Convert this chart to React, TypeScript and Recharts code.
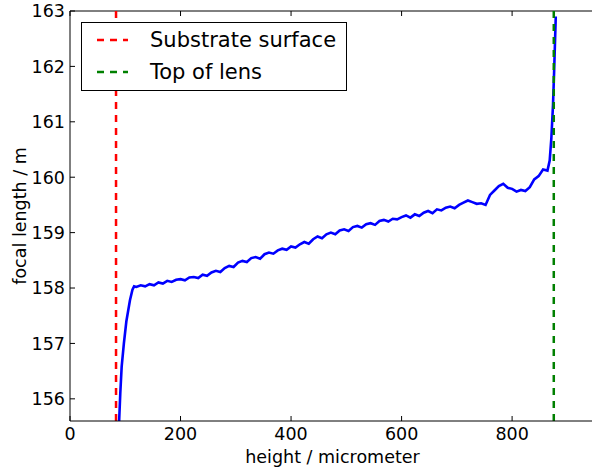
import { LineChart, Line, XAxis, YAxis, ReferenceLine, Legend } from 'recharts';

// measured profile: height (micrometer) vs focal length (m)
const heightUm = [
  88.5, 91, 93.5, 97.5, 102, 108.5, 113, 116,
  120, 128, 136, 144, 152, 160, 168, 176, 184, 192,
  200, 208, 216, 224, 232, 240, 248, 256, 264, 272,
  280, 288, 296, 304, 312, 320, 328, 336, 344, 352,
  360, 368, 376, 384, 392, 400, 408, 416, 424, 432,
  440, 448, 456, 464, 472, 480, 488, 496, 504, 512,
  520, 528, 536, 544, 552, 560, 568, 576, 584, 592,
  600, 608, 616, 624, 632, 640, 648, 656, 664, 672,
  680, 688, 696, 704, 712, 720, 728, 736, 744, 752,
  760, 768, 776, 784, 792, 800, 808, 816, 824, 832,
  840, 848, 856, 864, 868, 871, 874, 876, 877.5, 879,
];
const focalM = [
  155.5, 156.1, 156.58, 157.0, 157.4, 157.78, 157.97, 158.03,
  158.02, 158.05, 158.03, 158.07, 158.05, 158.1, 158.08, 158.13, 158.11, 158.15,
  158.16, 158.14, 158.19, 158.2, 158.18, 158.24, 158.22, 158.28, 158.31, 158.29,
  158.36, 158.4, 158.38, 158.46, 158.49, 158.47, 158.54, 158.56, 158.53, 158.61,
  158.64, 158.62, 158.68, 158.71, 158.69, 158.75, 158.73, 158.79, 158.83, 158.8,
  158.88, 158.93, 158.9, 158.97, 159.0, 158.97, 159.04, 159.06, 159.03, 159.1,
  159.12, 159.09, 159.15, 159.17, 159.14, 159.21, 159.23, 159.2, 159.25, 159.24,
  159.28, 159.31, 159.27, 159.33, 159.3, 159.36, 159.39, 159.35, 159.42, 159.4,
  159.45, 159.47, 159.44, 159.5, 159.54, 159.58, 159.55, 159.52, 159.53, 159.5,
  159.68, 159.76, 159.84, 159.88, 159.81, 159.79, 159.74, 159.77, 159.75, 159.82,
  159.96, 160.02, 160.14, 160.12, 160.3, 160.7, 161.3, 161.9, 162.4, 162.9,
];

const substrateX = [83.3, 83.3];
const lensTopX = [875.4, 875.4];
const markerY = [155.6, 163];

const xTicks = [0, 200, 400, 600, 800];
const yTicks = [156, 157, 158, 159, 160, 161, 162, 163];

const data = heightUm.map((h, i) => ({ h, f: focalM[i] }));
const substrateData = substrateX.map((h, i) => ({ h, v: markerY[i] }));
const lensData = lensTopX.map((h, i) => ({ h, v: markerY[i] }));

const FONT = 'DejaVu Sans, sans-serif';
const TOP = 11;
const BOTTOM = 421;
const LEFT = 70;

function XTick(props: any) {
  const { x, y, payload } = props;
  return (
    <g>
      <line x1={x} x2={x} y1={BOTTOM} y2={BOTTOM - 5} stroke="#000" />
      <line x1={x} x2={x} y1={TOP} y2={TOP + 5} stroke="#000" />
      <text x={x} y={y + 19} textAnchor="middle" fontSize={17.5} fontFamily={FONT} fill="#000">
        {payload.value}
      </text>
    </g>
  );
}

function YTick(props: any) {
  const { y, payload } = props;
  return (
    <g>
      <line x1={LEFT} x2={LEFT + 5} y1={y} y2={y} stroke="#000" />
      <text x={LEFT - 5} y={y + 6.3} textAnchor="end" fontSize={17.5} fontFamily={FONT} fill="#000">
        {payload.value}
      </text>
    </g>
  );
}

function LegendBox(props: any) {
  const items = (props.payload || []).filter((p: any) => p.type !== 'none');
  return (
    <div
      style={{
        width: 266,
        height: 69,
        boxSizing: 'border-box',
        border: '1px solid #000',
        background: '#fff',
        position: 'relative',
        fontFamily: FONT,
      }}
    >
      {items.map((it: any, i: number) => (
        <div key={it.value} style={{ position: 'absolute', left: 0, top: 17 + i * 32 - 12, height: 24, width: 264 }}>
          <svg width={40} height={24} style={{ position: 'absolute', left: 14, top: 0 }}>
            <line x1={1} x2={32} y1={12} y2={12} stroke={it.color} strokeWidth={2.5} strokeDasharray="7 6" />
          </svg>
          <span
            style={{
              position: 'absolute',
              left: 68,
              top: 0,
              lineHeight: '24px',
              fontSize: 21,
              color: '#000',
              whiteSpace: 'nowrap',
            }}
          >
            {it.value}
          </span>
        </div>
      ))}
    </div>
  );
}

export default function App() {
  return (
    <div style={{ position: 'absolute', left: 0, top: 0, width: 592, height: 469, overflow: 'hidden', background: '#fff' }}>
      <LineChart width={595} height={469} data={data} margin={{ top: TOP, right: 0, bottom: 0, left: 0 }}>
        <XAxis
          dataKey="h"
          type="number"
          domain={[0, 950]}
          ticks={xTicks}
          allowDataOverflow
          height={48}
          tickSize={0}
          tickMargin={0}
          tick={<XTick />}
          axisLine={{ stroke: '#000', strokeWidth: 1 }}
          label={{
            value: 'height / micrometer',
            position: 'insideBottom',
            offset: 6,
            style: { fontSize: 17.5, fontFamily: FONT, fill: '#000' },
          }}
        />
        <YAxis
          type="number"
          domain={[155.6, 163]}
          ticks={yTicks}
          allowDataOverflow
          width={LEFT}
          tickSize={0}
          tickMargin={0}
          tick={<YTick />}
          axisLine={{ stroke: '#000', strokeWidth: 1 }}
          label={({ viewBox }: any) => (
            <text
              x={viewBox.x + 26}
              y={viewBox.y + viewBox.height / 2}
              transform={`rotate(-90, ${viewBox.x + 26}, ${viewBox.y + viewBox.height / 2})`}
              textAnchor="middle"
              fontSize={17.5}
              fontFamily={FONT}
              fill="#000"
            >
              focal length / m
            </text>
          )}
        />
        <ReferenceLine y={163} stroke="#000" strokeWidth={1} />
        <Line
          dataKey="f"
          stroke="#0000ff"
          strokeWidth={2.6}
          dot={false}
          isAnimationActive={false}
          legendType="none"
        />
        <Line
          data={substrateData}
          dataKey="v"
          name="Substrate surface"
          stroke="#ff0000"
          strokeWidth={2.5}
          strokeDasharray="7 6"
          dot={false}
          isAnimationActive={false}
        />
        <Line
          data={lensData}
          dataKey="v"
          name="Top of lens"
          stroke="#008000"
          strokeWidth={2.5}
          strokeDasharray="7 6"
          dot={false}
          isAnimationActive={false}
        />
        <Legend
          layout="vertical"
          align="center"
          verticalAlign="middle"
          content={<LegendBox />}
          wrapperStyle={{ position: 'absolute', left: 81, top: 22, width: 266, height: 69 }}
        />
      </LineChart>
    </div>
  );
}
